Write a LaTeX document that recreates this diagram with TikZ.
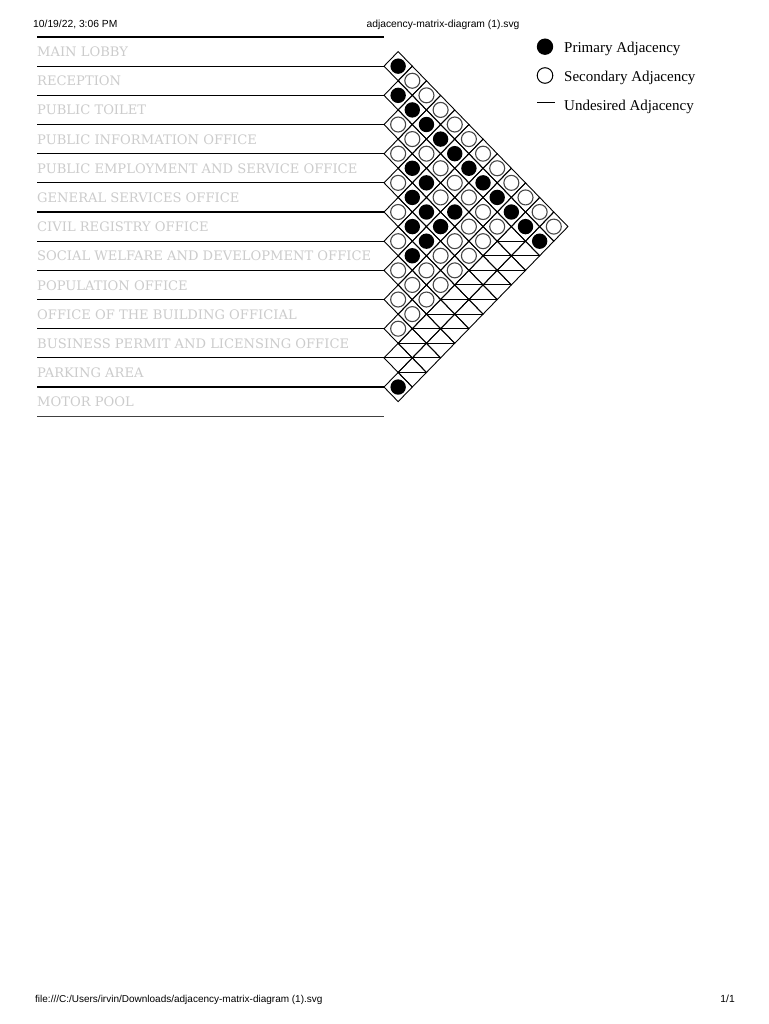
\documentclass[tikz,border=0pt]{standalone}
\usepackage{fontspec}
\newfontfamily\labelfont{DejaVu Serif}
\newfontfamily\legendfont{Liberation Serif}
\newfontfamily\pagefont{Liberation Sans}
\usetikzlibrary{calc}
\definecolor{labelgray}{gray}{0.8}
\tikzset{
	rowline/.style={line width=1.1pt, color=black},
	cellline/.style={line width=0.9pt, color=black},
	scircle/.style={line width=1.1pt, color=black!72},
	uline/.style={line width=1pt, color=black},
	rowlabel/.style={anchor=base west, inner sep=0pt, color=labelgray, font=\labelfont\fontsize{13.1}{16}\selectfont},
	legendtext/.style={anchor=base west, inner sep=0pt, font=\legendfont\fontsize{15}{18}\selectfont},
	pagetext/.style={inner sep=0pt, font=\pagefont\fontsize{10.3}{12}\selectfont}
}
% one diamond of the matrix: (#1 = diagonal row s, #2 = step d)
\def\diamcell(#1:#2){\draw[cellline] ({384+14.15*(#2)-14.15},{37+14.585*(#1+1)}) -- ++(14.15,-14.585) -- ++(14.15,14.585) -- ++(-14.15,14.585) -- cycle;}
\def\pcell(#1:#2){\diamcell(#1:#2)\fill[black] ({384+14.15*(#2)},{37+14.585*(#1+1)}) circle (7.7);}
\def\scell(#1:#2){\diamcell(#1:#2)\draw[scircle] ({384+14.15*(#2)},{37+14.585*(#1+1)}) circle (7.5);}
\def\ucell(#1:#2){\diamcell(#1:#2)\draw[uline] ({384+14.15*(#2)-14.15},{37+14.585*(#1+1)}) -- ++(28.3,0);}

\begin{document}
\begin{tikzpicture}[x=1pt, y=-1pt]
			%%%%% START %%%%%
			\useasboundingbox[fill=white] (0, 0) rectangle (768, 1024);
			
			\node[pagetext, anchor=base west] (stamp) at (33, 28) {10/19/22, 3:06 PM};
			\node[pagetext, anchor=base] (title) at (443, 28) {adjacency-matrix-diagram (1).svg};
			
			% row lines
			\draw[rowline] (37, 37.0) -- (384, 37.0);
			\draw[rowline] (37, 66.2) -- (384, 66.2);
			\draw[rowline] (37, 95.3) -- (384, 95.3);
			\draw[rowline] (37, 124.5) -- (384, 124.5);
			\draw[rowline] (37, 153.7) -- (384, 153.7);
			\draw[rowline] (37, 182.9) -- (384, 182.9);
			\draw[rowline] (37, 212.0) -- (384, 212.0);
			\draw[rowline] (37, 241.2) -- (384, 241.2);
			\draw[rowline] (37, 270.4) -- (384, 270.4);
			\draw[rowline] (37, 299.5) -- (384, 299.5);
			\draw[rowline] (37, 328.7) -- (384, 328.7);
			\draw[rowline] (37, 357.9) -- (384, 357.9);
			\draw[rowline] (37, 387.0) -- (384, 387.0);
			\draw[rowline, color=black!75] (37, 416.2) -- (384, 416.2);
			
			% room names
			\node[rowlabel] (lobby) at (37, 56.6) {MAIN LOBBY};
			\node[rowlabel] (reception) at (37, 85.8) {RECEPTION};
			\node[rowlabel] (toilet) at (37, 114.9) {PUBLIC TOILET};
			\node[rowlabel] (info) at (37, 144.1) {PUBLIC INFORMATION OFFICE};
			\node[rowlabel] (employ) at (37, 173.3) {PUBLIC EMPLOYMENT AND SERVICE OFFICE};
			\node[rowlabel] (general) at (37, 202.5) {GENERAL SERVICES OFFICE};
			\node[rowlabel] (civil) at (37, 231.6) {CIVIL REGISTRY OFFICE};
			\node[rowlabel] (welfare) at (37, 260.8) {SOCIAL WELFARE AND DEVELOPMENT OFFICE};
			\node[rowlabel] (population) at (37, 290.0) {POPULATION OFFICE};
			\node[rowlabel] (building) at (37, 319.1) {OFFICE OF THE BUILDING OFFICIAL};
			\node[rowlabel] (permit) at (37, 348.3) {BUSINESS PERMIT AND LICENSING OFFICE};
			\node[rowlabel] (parking) at (37, 377.5) {PARKING AREA};
			\node[rowlabel] (motor) at (37, 406.6) {MOTOR POOL};
			
			% matrix, one line per diagonal row
			\pcell(1:1)
			\scell(2:2)
			\pcell(3:1) \scell(3:3)
			\pcell(4:2) \scell(4:4)
			\scell(5:1) \pcell(5:3) \scell(5:5)
			\scell(6:2) \pcell(6:4) \scell(6:6)
			\scell(7:1) \scell(7:3) \pcell(7:5) \scell(7:7)
			\pcell(8:2) \scell(8:4) \pcell(8:6) \scell(8:8)
			\scell(9:1) \pcell(9:3) \scell(9:5) \pcell(9:7) \scell(9:9)
			\pcell(10:2) \scell(10:4) \scell(10:6) \pcell(10:8) \scell(10:10)
			\scell(11:1) \pcell(11:3) \pcell(11:5) \scell(11:7) \pcell(11:9) \scell(11:11)
			\pcell(12:2) \pcell(12:4) \scell(12:6) \scell(12:8) \pcell(12:10) \scell(12:12)
			\scell(13:1) \pcell(13:3) \scell(13:5) \scell(13:7) \ucell(13:9) \pcell(13:11)
			\pcell(14:2) \scell(14:4) \scell(14:6) \ucell(14:8) \ucell(14:10)
			\scell(15:1) \scell(15:3) \scell(15:5) \ucell(15:7) \ucell(15:9)
			\scell(16:2) \scell(16:4) \ucell(16:6) \ucell(16:8)
			\scell(17:1) \scell(17:3) \ucell(17:5) \ucell(17:7)
			\scell(18:2) \ucell(18:4) \ucell(18:6)
			\scell(19:1) \ucell(19:3) \ucell(19:5)
			\ucell(20:2) \ucell(20:4)
			\ucell(21:1) \ucell(21:3)
			\ucell(22:2)
			\pcell(23:1)
			
			% legend
			\fill[black] (545, 46.7) circle (8.2);
			\node[legendtext] (primary) at (564, 52.5) {Primary Adjacency};
			\draw[line width=1pt] (545, 75.5) circle (7.8);
			\node[legendtext] (secondary) at (564, 81.3) {Secondary Adjacency};
			\coordinate (dashL) at (537, 103);
			\coordinate (dashR) at (555, 103);
			\draw[line width=1pt] (dashL) -- (dashR);
			\node[legendtext] (undesired) at (564, 110.1) {Undesired Adjacency};
			
			\node[pagetext, anchor=base west, font=\pagefont\fontsize{10}{12}\selectfont] (path) at (35, 1002) {file:///C:/Users/irvin/Downloads/adjacency-matrix-diagram (1).svg};
			\node[pagetext, anchor=base east] (page) at (735, 1002) {1/1};
			%%%%% END %%%%%
\end{tikzpicture}
\end{document}
